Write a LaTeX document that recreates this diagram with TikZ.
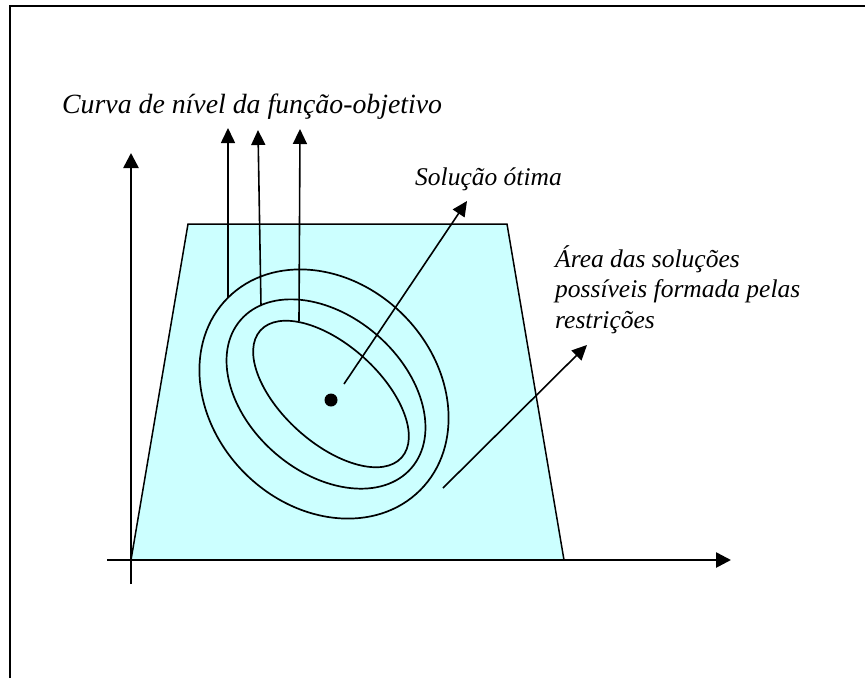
\documentclass[tikz,border=0pt]{standalone}
\usepackage{fontspec}
\setmainfont{Liberation Serif}
\usetikzlibrary{arrows.meta}
\definecolor{areacyan}{RGB}{204,255,255}
\tikzset{
  lbl/.style={font=\fontsize{25.5}{30.5}\selectfont\itshape, inner sep=0pt, anchor=base west},
  biglbl/.style={lbl, font=\fontsize{27.8}{32}\selectfont\itshape},
  axis/.style={line width=2.6pt, -{Triangle[length=15pt,width=15pt]}},
  ptr/.style={line width=1.6pt, -{Triangle[length=15pt,width=14pt]}},
  curve/.style={line width=1.7pt},
}
\begin{document}
\begin{tikzpicture}[x=1pt,y=-1pt]
\useasboundingbox (0,0) rectangle (865,678);
% frame
\coordinate (fa) at (10,678);
\coordinate (fb) at (10,6);
\coordinate (fc) at (865,6);
\draw[line width=2pt] (fa) -- (fb) -- (fc);
% feasible area
\coordinate (t1) at (131,560);
\coordinate (t2) at (188,224);
\coordinate (t3) at (507,224);
\coordinate (t4) at (564,560);
\draw[fill=areacyan, line width=1.5pt, line join=miter] (t1) -- (t2) -- (t3) -- (t4) -- cycle;
% axes
\coordinate (xs) at (107,560);
\coordinate (xe) at (731,560);
\coordinate (ys) at (131,584);
\coordinate (ye) at (131,153);
\draw[axis] (xs) -- (xe);
\draw[axis] (ys) -- (ye);
% level curves
\coordinate (c1) at (324,394);
\coordinate (c2) at (326,394);
\coordinate (c3) at (331,394);
\draw[curve, rotate around={-45:(c1)}] (c1) ellipse [x radius=136pt, y radius=112pt];
\draw[curve, rotate around={-41:(c2)}] (c2) ellipse [x radius=113pt, y radius=78pt];
\draw[curve, rotate around={-42:(c3)}] (c3) ellipse [x radius=95pt, y radius=49pt];
% optimum
\node[circle, fill=black, inner sep=0pt, minimum size=13pt] (opt) at (331,400) {};
% pointers
\coordinate (a1s) at (228,297);
\coordinate (a1e) at (228,128);
\coordinate (a2s) at (261,306);
\coordinate (a2e) at (258,130);
\coordinate (a3s) at (299,321);
\coordinate (a3e) at (300,129);
\draw[ptr] (a1s) -- (a1e);
\draw[ptr] (a2s) -- (a2e);
\draw[ptr] (a3s) -- (a3e);
\coordinate (sos) at (344,384);
\coordinate (soe) at (467,201);
\draw[ptr] (sos) -- (soe);
\coordinate (ars) at (443,488);
\coordinate (are) at (587,345);
\draw[ptr] (ars) -- (are);
% labels
\node[biglbl] (lcurva) at (62,113) {Curva de nível da função-objetivo};
\node[lbl] (lsol) at (415,185) {Solução ótima};
\node[lbl, align=left] (larea) at (555,328) {Área das soluções\\possíveis formada pelas\\restrições};
\end{tikzpicture}
\end{document}
